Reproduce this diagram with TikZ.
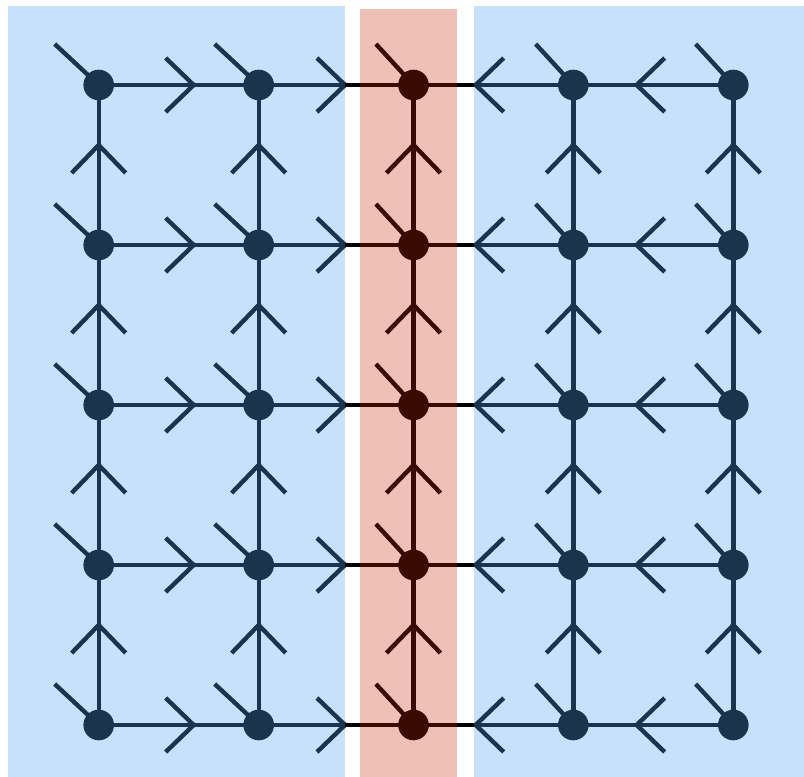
\documentclass[tikz,border=0pt]{standalone}
\usetikzlibrary{decorations.markings,calc}
\definecolor{ovblue}{RGB}{83,161,242}
\definecolor{ovred}{RGB}{203,35,0}
\tikzset{
  x=1pt, y=1pt,
  site/.style={circle, fill=black, inner sep=0pt, minimum size=30.6pt},
  bond/.style={line width=4.4pt, black},
  chevat/.style={postaction={decorate, decoration={markings,
      mark=at position #1 with {\draw[line width=4.4pt, line join=miter, miter limit=10] (-28,27) -- (0,0) -- (-28,-27);}}}},
  tail/.style={line width=4.4pt, black},
}
\begin{document}
\begin{tikzpicture}
\useasboundingbox (0,0) rectangle (804,777);
% node positions
\foreach \c/\x in {1/98.7, 2/258.7, 3/413.5, 4/573.3, 5/733.3}{
  \foreach \r/\y in {1/692, 2/532, 3/372, 4/212, 5/52}{
    \coordinate (p\c\r) at (\x,\y);
  }
}
% tails
\foreach \c/\dx in {1/44, 2/44, 3/37.6, 4/37.6, 5/37.6}{
  \foreach \r in {1,...,5}{
    \coordinate (t\c\r) at ($(p\c\r)+(-\dx,41)$);
    \draw[tail] (t\c\r) -- (p\c\r);
  }
}
% horizontal bonds
\foreach \r in {1,...,5}{
  \draw[bond, chevat=95pt] (p1\r) -- (p2\r);
  \draw[bond, chevat=86.3pt] (p2\r) -- (p3\r);
  \draw[bond, chevat=97.6pt] (p4\r) -- (p3\r);
  \draw[bond, chevat=96.6pt] (p5\r) -- (p4\r);
}
% vertical bonds
\foreach \c in {1,...,5}{
  \foreach \r/\s in {2/1, 3/2, 4/3, 5/4}{
    \draw[bond, chevat=100pt] (p\c\r) -- (p\c\s);
  }
}
% sites
\foreach \c in {1,...,5}{
  \foreach \r in {1,...,5}{
    \node[site] (n\c\r) at (p\c\r) {};
  }
}
% overlays
\fill[ovblue, fill opacity=0.325] (8,0) rectangle (345,771);
\fill[ovblue, fill opacity=0.325] (474,0) rectangle (804,771);
\fill[ovred, fill opacity=0.286] (360,0) rectangle (457,768);
\end{tikzpicture}
\end{document}
